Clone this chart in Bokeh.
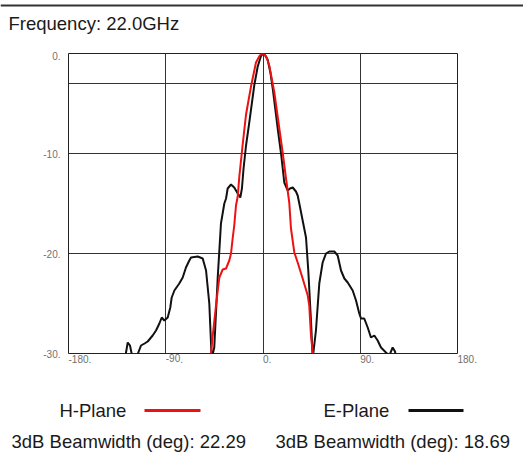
from bokeh.plotting import figure
from bokeh.layouts import column
from bokeh.models import Range1d, FixedTicker, PrintfTickFormatter
from bokeh.core.properties import value
from bokeh.embed import file_html
from bokeh.resources import INLINE

# ---- data ----
title_text = "Frequency: 22.0GHz"
x_ticks = [-180, -90, 0, 90, 180]
y_ticks = [-30, -20, -10, 0]
y_grid = [-20, -10, -3]

e_deg = [-127.7, -125.2, -123.1, -120.6, -117.5, -112.9, -109.6, -106.7, -102.1, -99.0,
         -95.9, -93.7, -91.3, -88.2, -85.8, -84.5, -82.0, -77.5, -74.3, -71.3,
         -68.2, -66.6, -60.4, -55.8, -52.7, -49.7, -47.5, -45.1, -41.9, -38.9,
         -35.8, -34.2, -32.7, -29.6, -26.6, -23.4, -21.0, -19.5, -18.0, -15.7,
         -12.7, -8.1, -4.9, -2.0, 0.0, 2.0, 4.3, 7.0, 9.0, 13.6,
         16.7, 19.7, 22.9, 25.0, 27.5, 30.5, 32.1, 33.6, 36.7, 39.8,
         41.9, 44.4, 46.0, 49.0, 52.1, 55.2, 58.3, 61.4, 66.0, 69.1,
         72.2, 75.3, 78.4, 83.0, 86.1, 89.1, 90.7, 93.7, 96.9, 99.9,
         103.0, 106.1, 109.2, 113.8, 116.9, 120.0, 122.2, 123.1]
e_db = [-30.5, -28.9, -29.2, -30.5, -30.5, -29.2, -29.0, -28.8, -28.2, -27.7,
        -27.0, -26.4, -26.7, -26.4, -25.4, -24.4, -23.7, -23.0, -22.4, -21.4,
        -20.7, -20.4, -20.3, -20.5, -21.7, -25.0, -30.5, -29.4, -22.4, -17.0,
        -15.0, -14.5, -13.5, -13.1, -13.4, -14.0, -14.4, -13.5, -11.5, -9.2,
        -6.9, -3.2, -1.3, -0.3, 0.0, -0.2, -0.6, -2.0, -3.5, -7.5,
        -10.0, -12.9, -13.7, -13.5, -13.4, -13.8, -14.2, -15.0, -16.7, -18.4,
        -21.7, -26.7, -30.5, -27.7, -23.0, -20.9, -20.0, -19.8, -19.8, -20.2,
        -21.7, -22.5, -22.9, -23.7, -24.7, -26.0, -26.5, -26.5, -27.4, -28.4,
        -28.2, -28.7, -29.4, -29.9, -30.2, -29.4, -29.8, -30.5]

h_deg = [-48.5, -46.5, -43.5, -40.4, -37.3, -34.2, -31.2, -29.6, -28.2, -26.6,
         -25.0, -23.4, -21.9, -18.8, -15.7, -11.1, -6.5, -3.0, 0.0, 3.0,
         5.8, 10.5, 15.1, 18.2, 21.3, 24.3, 25.9, 29.0, 32.1, 36.7,
         41.4, 42.8, 44.4, 46.0, 46.7]
h_db = [-30.5, -28.2, -25.2, -22.4, -21.6, -21.5, -20.7, -20.0, -18.6, -17.2,
        -15.2, -14.3, -12.3, -9.1, -6.1, -3.3, -0.9, -0.2, 0.0, -0.3,
        -1.2, -3.9, -7.5, -9.9, -12.5, -14.9, -17.5, -19.9, -20.9, -22.5,
        -24.2, -25.2, -28.2, -29.9, -30.5]

h_label = "H-Plane"
e_label = "E-Plane"
h_bw = "3dB Beamwidth (deg): 22.29"
e_bw = "3dB Beamwidth (deg): 18.69"

FONT = "Liberation Sans"
W = 523


def blank(height):
    f = figure(width=W, height=height, output_backend="svg", toolbar_location=None,
               x_range=Range1d(0, W), y_range=Range1d(height, 0),
               x_axis_location=None, y_axis_location=None, frame_align=False,
               min_border=0, min_border_left=0, min_border_right=0,
               min_border_top=0, min_border_bottom=0)
    f.xgrid.visible = False
    f.ygrid.visible = False
    f.outline_line_color = None
    f.background_fill_color = "white"
    f.border_fill_color = "white"
    return f


# ---- title strip ----
top = blank(51)
top.segment(x0=[0], y0=[5], x1=[W], y1=[5], line_color="#333333", line_width=2)
top.text(x=[8], y=[23], text=[title_text], text_font=value(FONT),
         text_font_size="18.5px", text_color="#1a1a1a", text_baseline="middle")

# ---- main chart ----
p = figure(width=W, height=325, output_backend="svg", toolbar_location=None,
           x_range=Range1d(-180, 180), y_range=Range1d(-30, 0), frame_align=False,
           min_border_left=68, min_border_right=66, min_border_top=2,
           min_border_bottom=23)
p.background_fill_color = "white"
p.border_fill_color = "white"
p.outline_line_color = "#222222"
p.outline_line_width = 1

p.xaxis.ticker = FixedTicker(ticks=x_ticks)
p.yaxis.ticker = FixedTicker(ticks=y_ticks)
p.xaxis.formatter = PrintfTickFormatter(format="%d.")
p.yaxis.formatter = PrintfTickFormatter(format="%d.")
for ax in (p.xaxis, p.yaxis):
    ax.axis_line_color = None
    ax.major_tick_line_color = None
    ax.minor_tick_line_color = None
    ax.major_tick_out = 0
    ax.major_tick_in = 0
    ax.major_label_text_font = FONT
    ax.major_label_text_font_size = "10px"
    ax.major_label_text_color = "#707070"
p.xaxis.major_label_orientation = -1e-6
p.xaxis.major_label_text_align = "left"
p.xaxis.major_label_standoff = 5
p.yaxis.major_label_standoff = 8

p.xgrid.ticker = FixedTicker(ticks=[-90, 0, 90])
p.ygrid.ticker = FixedTicker(ticks=y_grid)
p.xgrid.grid_line_color = "#333333"
p.ygrid.grid_line_color = "#333333"
p.xgrid.grid_line_alpha = 1.0
p.ygrid.grid_line_alpha = 1.0

p.line(e_deg, e_db, line_color="#111111", line_width=2)
p.line(h_deg, h_db, line_color="#ee1111", line_width=2)

# ---- legend strip ----
bot = blank(77)
bot.text(x=[59, 323], y=[34, 34], text=[h_label, e_label], text_font=value(FONT),
         text_font_size="18.5px", text_color="#1a1a1a", text_baseline="middle")
bot.segment(x0=[144], y0=[34], x1=[200], y1=[34], line_color="#ee1111", line_width=3)
bot.segment(x0=[408], y0=[34], x1=[463], y1=[34], line_color="#111111", line_width=3)
bot.text(x=[11, 275], y=[65, 65], text=[h_bw, e_bw], text_font=value(FONT),
         text_font_size="18.5px", text_color="#1a1a1a", text_baseline="middle")

layout = column(top, p, bot, spacing=0)
open("out.html", "w").write(file_html(layout, INLINE))
